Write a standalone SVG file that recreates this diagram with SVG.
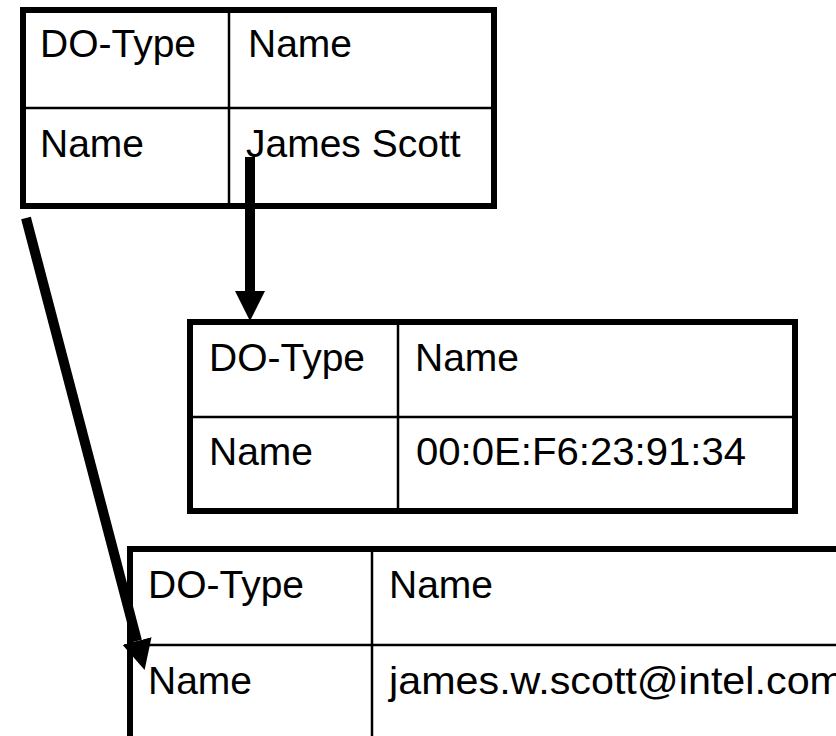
<svg xmlns="http://www.w3.org/2000/svg" width="836" height="736" viewBox="0 0 836 736">
  <style>
    .frame { fill: #ffffff; stroke: #000000; stroke-width: 6; }
    .rule { stroke: #000000; stroke-width: 2.5; fill: none; }
    .cell { font-family: "Liberation Sans", Arial, Helvetica, sans-serif; font-size: 39px; fill: #000000; }
    .shaft { stroke: #000000; stroke-width: 10; fill: none; }
  </style>
  <defs>
    <marker id="head" viewBox="0 0 10 10" refX="0" refY="5" markerWidth="3" markerHeight="3.2" markerUnits="strokeWidth" orient="auto">
      <path d="M0,0 L10,5 L0,10 Z" fill="#000000"/>
    </marker>
  </defs>

  <!-- record: user name -->
  <g id="table-name">
    <rect class="frame" x="23" y="10" width="471" height="196"/>
    <line class="rule" x1="23" y1="108" x2="494" y2="108"/>
    <line class="rule" x1="229" y1="10" x2="229" y2="206"/>
    <text class="cell" x="40" y="57">DO-Type</text>
    <text class="cell" x="248" y="57">Name</text>
    <text class="cell" x="40" y="157">Name</text>
    <text class="cell" x="246" y="157">James Scott</text>
  </g>

  <!-- record: MAC address -->
  <g id="table-mac">
    <rect class="frame" x="190" y="322" width="605" height="189"/>
    <line class="rule" x1="190" y1="417" x2="795" y2="417"/>
    <line class="rule" x1="398" y1="322" x2="398" y2="511"/>
    <text class="cell" x="209" y="371">DO-Type</text>
    <text class="cell" x="415" y="371">Name</text>
    <text class="cell" x="209" y="465">Name</text>
    <text class="cell" x="416" y="465" textLength="330" lengthAdjust="spacingAndGlyphs">00:0E:F6:23:91:34</text>
  </g>

  <!-- record: e-mail address (runs past the right and bottom edges) -->
  <g id="table-email">
    <rect class="frame" x="130" y="549" width="760" height="240"/>
    <line class="rule" x1="130" y1="645" x2="890" y2="645"/>
    <line class="rule" x1="372" y1="549" x2="372" y2="790"/>
    <text class="cell" x="148" y="598">DO-Type</text>
    <text class="cell" x="389" y="598">Name</text>
    <text class="cell" x="148" y="694">Name</text>
    <text class="cell" x="389" y="694" textLength="455" lengthAdjust="spacingAndGlyphs">james.w.scott@intel.com</text>
  </g>

  <!-- links between records -->
  <g id="connectors">
    <line class="shaft" x1="250" y1="157" x2="250" y2="291" marker-end="url(#head)"/>
    <line class="shaft" x1="26" y1="218" x2="137" y2="641" marker-end="url(#head)"/>
  </g>
</svg>
